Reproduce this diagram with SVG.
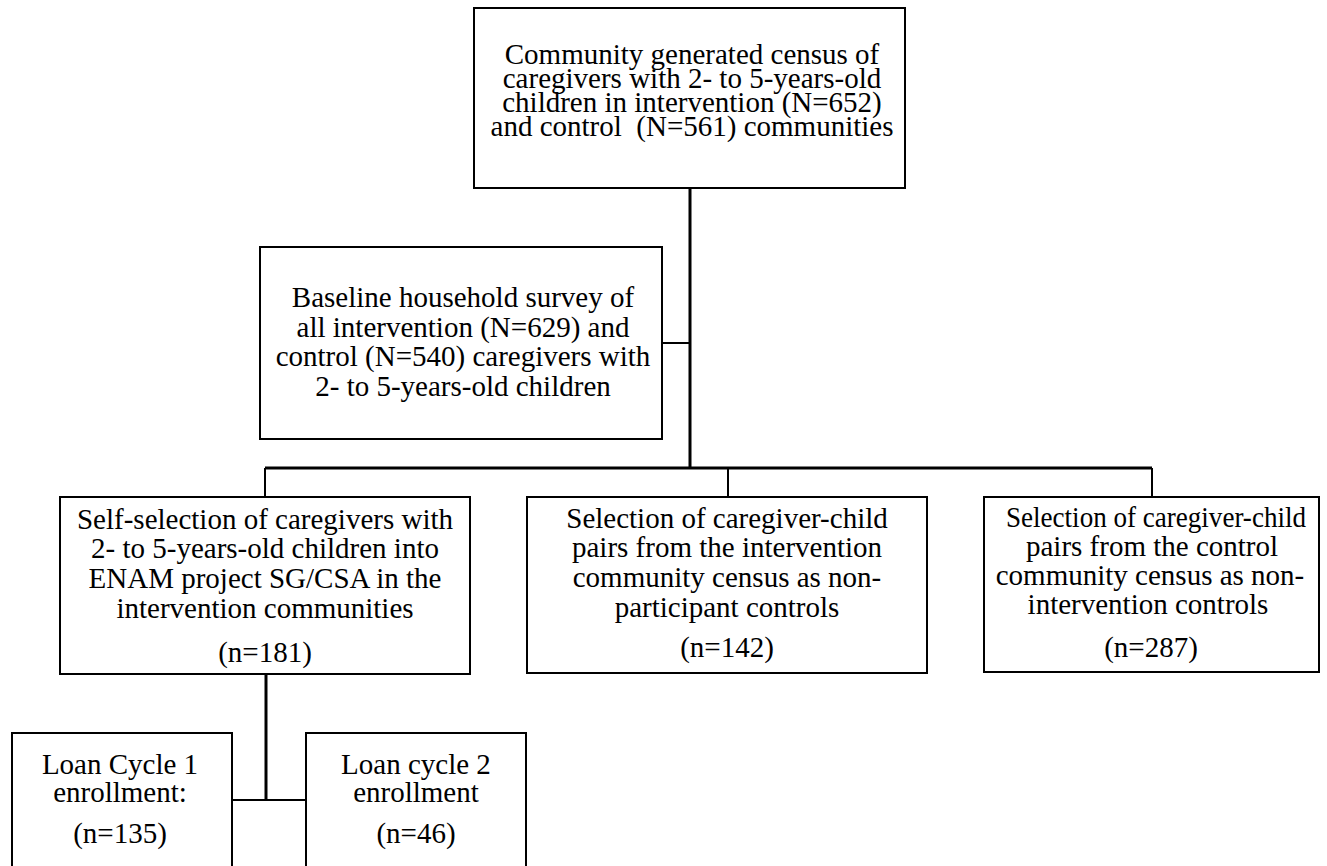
<svg xmlns="http://www.w3.org/2000/svg" width="1327" height="866" viewBox="0 0 1327 866">
<style>
.box{fill:#fff;stroke:#000;stroke-width:2}
.t{font-family:"Liberation Serif","Times New Roman","DejaVu Serif",serif;font-size:29px;fill:#000;text-anchor:middle}
.c{fill:none;stroke:#000;stroke-width:2}
.c3{fill:none;stroke:#000;stroke-width:3}
</style>
<rect width="1327" height="866" fill="#fff"/>
<g id="connectors">
<path class="c3" d="M690 188V468"/>
<path class="c" d="M662 343H690"/>
<path class="c3" d="M265 468H1152"/>
<path class="c" d="M265 468V497M728 468V497M1152 468V497"/>
<path class="c3" d="M266 675V800"/>
<path class="c" d="M232 800H306"/>
</g>
<g id="census">
<rect class="box" x="474" y="8" width="431" height="180"/>
<text class="t" x="692" y="64">Community generated census of</text>
<text class="t" x="692" y="88">caregivers with 2- to 5-years-old</text>
<text class="t" x="692" y="112">children in intervention (N=652)</text>
<text class="t" x="692" y="136" xml:space="preserve">and control  (N=561) communities</text>
</g>
<g id="baseline">
<rect class="box" x="260" y="247" width="402" height="192"/>
<text class="t" x="463" y="307">Baseline household survey of</text>
<text class="t" x="463" y="337">all intervention (N=629) and</text>
<text class="t" x="463" y="366">control (N=540) caregivers with</text>
<text class="t" x="463" y="396">2- to 5-years-old children</text>
</g>
<g id="selfselection">
<rect class="box" x="60" y="497" width="410" height="177"/>
<text class="t" x="265" y="529">Self-selection of caregivers with</text>
<text class="t" x="265" y="558">2- to 5-years-old children into</text>
<text class="t" x="265" y="588">ENAM project SG/CSA in the</text>
<text class="t" x="265" y="618">intervention communities</text>
<text class="t" x="265" y="662">(n=181)</text>
</g>
<g id="nonparticipant">
<rect class="box" x="527" y="497" width="400" height="176"/>
<text class="t" x="727" y="528">Selection of caregiver-child</text>
<text class="t" x="727" y="557">pairs from the intervention</text>
<text class="t" x="727" y="587">community census as non-</text>
<text class="t" x="727" y="617">participant controls</text>
<text class="t" x="727" y="657">(n=142)</text>
</g>
<g id="nonintervention">
<rect class="box" x="984" y="497" width="335" height="175"/>
<text class="t" x="1156" y="527" textLength="300" lengthAdjust="spacingAndGlyphs">Selection of caregiver-child</text>
<text class="t" x="1152" y="556">pairs from the control</text>
<text class="t" x="1150" y="585">community census as non-</text>
<text class="t" x="1148" y="614">intervention controls</text>
<text class="t" x="1151" y="657">(n=287)</text>
</g>
<g id="loan1">
<rect class="box" x="12" y="733" width="220" height="150"/>
<text class="t" x="120" y="774">Loan Cycle 1</text>
<text class="t" x="120" y="802">enrollment:</text>
<text class="t" x="120" y="843">(n=135)</text>
</g>
<g id="loan2">
<rect class="box" x="306" y="733" width="220" height="150"/>
<text class="t" x="416" y="774">Loan cycle 2</text>
<text class="t" x="416" y="802">enrollment</text>
<text class="t" x="416" y="843">(n=46)</text>
</g>
</svg>
